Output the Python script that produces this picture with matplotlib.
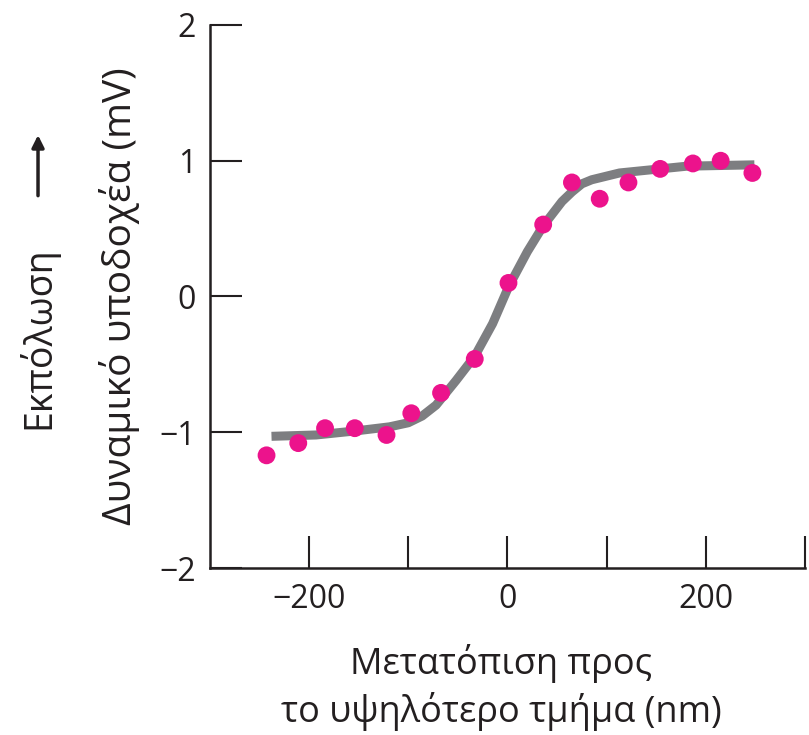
import matplotlib.pyplot as plt

# measured points (displacement in nm, receptor potential in mV)
shift_nm = [-243, -211, -184, -154, -122, -97, -67, -33, 1, 36, 65, 93, 122, 154, 187, 215, 247]
potential_mv = [-1.17, -1.08, -0.97, -0.97, -1.02, -0.86, -0.71, -0.46, 0.10, 0.53,
                0.84, 0.72, 0.84, 0.94, 0.98, 1.00, 0.91]

# fitted curve
fit_x = [-238, -193, -153, -119, -100, -86, -72, -52, -33, -15, 1, 20, 36, 55, 65, 75, 85, 113, 181, 249]
fit_y = [-1.03, -1.02, -0.99, -0.96, -0.93, -0.88, -0.80, -0.62, -0.44, -0.20, 0.07, 0.33, 0.52,
         0.70, 0.77, 0.83, 0.86, 0.91, 0.96, 0.97]

x_ticks = [-200, -100, 0, 100, 200, 300]
x_tick_labels = ['\u2212200', '', '0', '', '200', '']
y_ticks = [-2, -1, 0, 1, 2]
y_tick_labels = ['\u22122', '\u22121', '0', '1', '2']

plt.rcParams['font.family'] = ['Open Sans', 'DejaVu Sans']
ink = '#231f20'

fig = plt.figure(figsize=(8.09, 7.35), dpi=100)
ax = fig.add_axes([0.2596, 0.2272, 0.7354, 0.7388])

ax.plot(fit_x, fit_y, color='#7d7e81', lw=6.5, solid_capstyle='butt', solid_joinstyle='round', zorder=2)
ax.scatter(shift_nm, potential_mv, s=165, color='#ec138c', edgecolors='none', zorder=3)

ax.set_xlim(-300, 300)
ax.set_ylim(-2, 2)
ax.set_xticks(x_ticks)
ax.set_xticklabels(x_tick_labels)
ax.set_yticks(y_ticks)
ax.set_yticklabels(y_tick_labels)

for side in ['top', 'right']:
    ax.spines[side].set_visible(False)
for side in ['left', 'bottom']:
    ax.spines[side].set_linewidth(1.8)
    ax.spines[side].set_color(ink)

ax.tick_params(direction='in', length=23, width=1.5, color=ink, labelsize=23, labelcolor=ink, pad=10)
ax.tick_params(axis='x', pad=11)

ax.set_xlabel('Μετατόπιση προς\nτο υψηλότερο τμήμα (nm)', fontsize=26, color=ink,
              linespacing=1.3, labelpad=20)
ax.xaxis.label.set_x(0.49)
ax.set_ylabel('Δυναμικό υποδοχέα (mV)', fontsize=28, color=ink, labelpad=14)

fig.text(0.047, 0.541, 'Εκπόλωση', rotation=90, fontsize=27, color=ink, ha='center', va='center')
ax.annotate('', xy=(0.047, 0.82), xytext=(0.047, 0.73), xycoords='figure fraction',
            arrowprops=dict(arrowstyle='-|>', color=ink, lw=2.5, mutation_scale=18))

fig.savefig('out.png', dpi=100)
